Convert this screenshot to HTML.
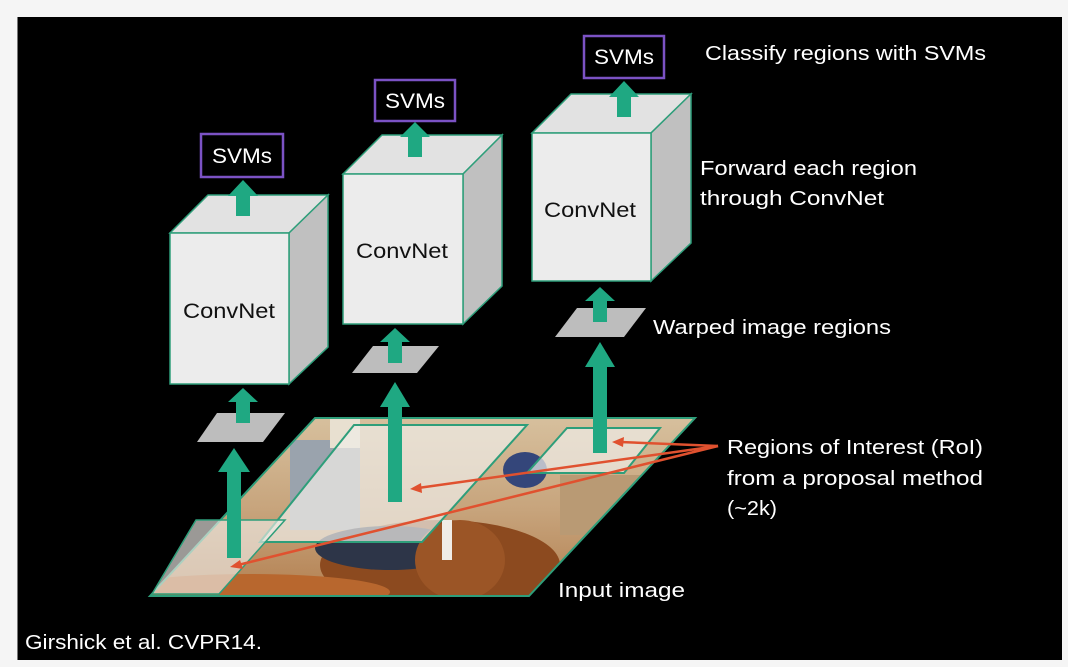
<!DOCTYPE html>
<html><head><meta charset="utf-8"><style>
html,body{margin:0;padding:0;background:#f5f5f5;}
svg{display:block;}
text{font-family:"Liberation Sans",sans-serif;}
</style></head><body>
<svg width="1068" height="667" viewBox="0 0 1068 667" xmlns="http://www.w3.org/2000/svg">
<defs>
<clipPath id="img"><polygon points="315,418 695,418 529,596 150,596"/></clipPath>
<linearGradient id="bg" x1="0" y1="0" x2="0" y2="1">
<stop offset="0" stop-color="#d8c2a0"/><stop offset="0.5" stop-color="#c7a47c"/><stop offset="1" stop-color="#b07a4a"/></linearGradient>
</defs>
<rect x="0" y="0" width="1068" height="667" fill="#f5f5f5"/>
<rect x="17" y="17" width="1045" height="643" fill="#000"/>
<line x1="17.5" y1="17" x2="17.5" y2="660" stroke="#777" stroke-width="1"/>

<!-- input image -->
<g clip-path="url(#img)">
<rect x="140" y="410" width="570" height="200" fill="url(#bg)"/>
<rect x="290" y="440" width="70" height="90" fill="#9aa3ad"/>
<rect x="330" y="418" width="30" height="30" fill="#e8e0d0"/>
<ellipse cx="440" cy="565" rx="120" ry="45" fill="#8c4a1f"/>
<ellipse cx="390" cy="548" rx="75" ry="22" fill="#2d3548"/>
<ellipse cx="460" cy="560" rx="45" ry="40" fill="#9b5526"/>
<rect x="442" y="520" width="10" height="40" fill="#f0ece6"/>
<ellipse cx="250" cy="592" rx="140" ry="18" fill="#b8672e"/>
<ellipse cx="525" cy="470" rx="22" ry="18" fill="#34467a"/>
<rect x="560" y="475" width="150" height="60" fill="#b99a74"/>
</g>
<polygon points="315,418 695,418 529,596 150,596" fill="none" stroke="#2e9e7a" stroke-width="2"/>
<!-- RoIs -->
<polygon points="354,425 527,425 422,542 260,542" fill="#eeebe6" fill-opacity="0.72" stroke="#2e9e7a" stroke-width="2"/>
<polygon points="567,428 660,428 624,473 527,473" fill="#eeebe6" fill-opacity="0.72" stroke="#2e9e7a" stroke-width="2"/>
<polygon points="196,520 285,520 219,594 152,594" fill="#eeebe6" fill-opacity="0.65" stroke="#2e9e7a" stroke-width="1.5"/>

<!-- long arrows -->
<g fill="#1fa882">
<rect x="227" y="470" width="14" height="88"/><polygon points="218,472 234,448 250,472"/>
<rect x="388" y="405" width="14" height="97"/><polygon points="380,407 395,382 410,407"/>
<rect x="593" y="365" width="14" height="88"/><polygon points="585,367 600,342 615,367"/>
</g>

<!-- red arrows -->
<g stroke="#e0512f" stroke-width="2.5" fill="#e0512f">
<line x1="718" y1="446" x2="620" y2="442"/>
<line x1="718" y1="446" x2="418" y2="488"/>
<line x1="718" y1="446" x2="238" y2="565"/>
</g>
<g fill="#e0512f">
<polygon points="612,442 624,437 623,447"/>
<polygon points="410,489 421,483 422,493"/>
<polygon points="230,567 240,560 243,569"/>
</g>

<!-- warped regions -->
<g fill="#bdbdbd">
<polygon points="217,413 285,413 263,442 197,442"/>
<polygon points="373,346 439,346 417,373 352,373"/>
<polygon points="577,308 646,308 624,337 555,337"/>
</g>
<!-- small arrows -->
<g fill="#1fa882">
<rect x="236" y="400" width="14" height="23"/><polygon points="228,402 243,388 258,402"/>
<rect x="388" y="340" width="14" height="23"/><polygon points="380,342 395,328 410,342"/>
<rect x="593" y="300" width="14" height="22"/><polygon points="585,301 600,287 615,301"/>
</g>

<!-- cubes -->
<g stroke="#2e9e7a" stroke-width="1.5">
<polygon points="170,233 208,195 328,195 289,233" fill="#e2e2e2"/>
<polygon points="289,233 328,195 328,347 289,384" fill="#c0c0c0"/>
<rect x="170" y="233" width="119" height="151" fill="#ececec"/>
<polygon points="343,174 382,135 502,135 463,174" fill="#e2e2e2"/>
<polygon points="463,174 502,135 502,286 463,324" fill="#c0c0c0"/>
<rect x="343" y="174" width="120" height="150" fill="#ececec"/>
<polygon points="532,133 571,94 691,94 651,133" fill="#e2e2e2"/>
<polygon points="651,133 691,94 691,243 651,281" fill="#c0c0c0"/>
<rect x="532" y="133" width="119" height="148" fill="#ececec"/>
</g>
<g font-size="21" fill="#111" text-anchor="middle">
<text x="229" y="318" textLength="92" lengthAdjust="spacingAndGlyphs">ConvNet</text>
<text x="402" y="258" textLength="92" lengthAdjust="spacingAndGlyphs">ConvNet</text>
<text x="590" y="217" textLength="92" lengthAdjust="spacingAndGlyphs">ConvNet</text>
</g>
<!-- top arrows -->
<g fill="#1fa882">
<rect x="236" y="194" width="14" height="22"/><polygon points="228,196 243,180 258,196"/>
<rect x="408" y="135" width="14" height="22"/><polygon points="400,137 415,122 430,137"/>
<rect x="617" y="95" width="14" height="22"/><polygon points="609,97 624,81 639,97"/>
</g>
<!-- SVMs -->
<g fill="#000" stroke="#7b52c4" stroke-width="2.5">
<rect x="201" y="134" width="82" height="43"/>
<rect x="375" y="80" width="80" height="41"/>
<rect x="584" y="36" width="80" height="42"/>
</g>
<g font-size="21" fill="#fff" text-anchor="middle">
<text x="242" y="163" textLength="60" lengthAdjust="spacingAndGlyphs">SVMs</text>
<text x="415" y="108" textLength="60" lengthAdjust="spacingAndGlyphs">SVMs</text>
<text x="624" y="64" textLength="60" lengthAdjust="spacingAndGlyphs">SVMs</text>
</g>

<g font-size="20" fill="#fff">
<text x="705" y="60" textLength="281" lengthAdjust="spacingAndGlyphs">Classify regions with SVMs</text>
<text x="700" y="175" textLength="217" lengthAdjust="spacingAndGlyphs">Forward each region</text>
<text x="700" y="205" textLength="184" lengthAdjust="spacingAndGlyphs">through ConvNet</text>
<text x="653" y="334" textLength="238" lengthAdjust="spacingAndGlyphs">Warped image regions</text>
<text x="727" y="454" textLength="256" lengthAdjust="spacingAndGlyphs">Regions of Interest (RoI)</text>
<text x="727" y="485" textLength="256" lengthAdjust="spacingAndGlyphs">from a proposal method</text>
<text x="727" y="515" textLength="50" lengthAdjust="spacingAndGlyphs">(~2k)</text>
<text x="558" y="597" textLength="127" lengthAdjust="spacingAndGlyphs">Input image</text>
<text x="25" y="649" textLength="237" lengthAdjust="spacingAndGlyphs">Girshick et al. CVPR14.</text>
</g>
</svg>
</body></html>
